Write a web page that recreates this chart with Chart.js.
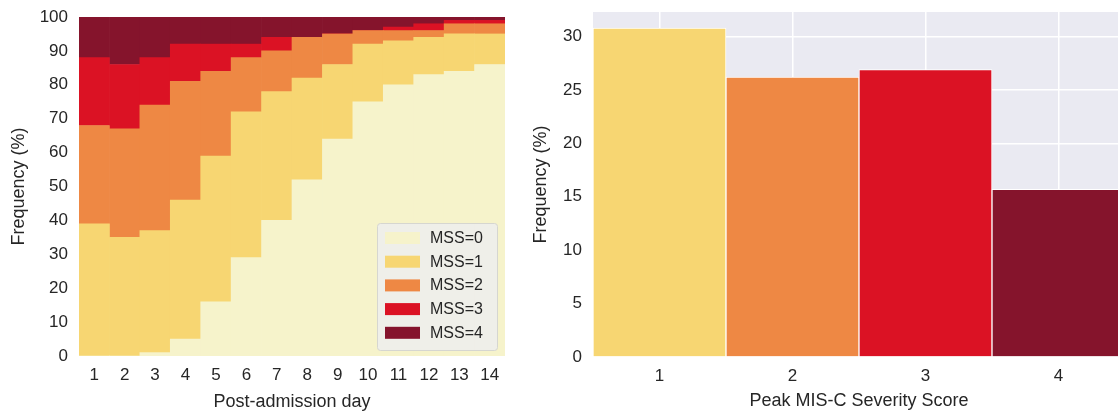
<!DOCTYPE html>
<html>
<head>
<meta charset="utf-8">
<script src="https://cdn.jsdelivr.net/npm/chart.js@4.4.1/dist/chart.umd.min.js"></script>
<style>
  html, body { margin: 0; padding: 0; background: #fff; }
  #wrap { position: relative; width: 1118px; height: 414px; overflow: hidden; }
  #left { position: absolute; left: 0; top: 0; width: 520px; height: 414px; }
  #right { position: absolute; left: 522px; top: 0; width: 608px; height: 414px; }
</style>
</head>
<body>
<div id="wrap">
  <div id="left"><canvas id="cLeft"></canvas></div>
  <div id="right"><canvas id="cRight"></canvas></div>
</div>
<script>
// ====== DATA ======
const days = ['1', '2', '3', '4', '5', '6', '7', '8', '9', '10', '11', '12', '13', '14'];
const mss0 = [0, 0, 1, 5, 16, 29, 40, 52, 64, 75, 80, 83, 84, 86];
const mss1 = [39, 35, 36, 41, 43, 43, 38, 30, 22, 17, 13, 11, 11, 9];
const mss2 = [29, 32, 37, 35, 25, 16, 12, 12, 9, 4, 3, 2, 3, 3];
const mss3 = [20, 19, 14, 11, 8, 4, 4, 0, 0, 0, 1, 2, 1, 1];
const mss4 = [12, 14, 12, 8, 8, 8, 6, 6, 5, 4, 3, 2, 1, 1];
const mssLabels = ['MSS=0', 'MSS=1', 'MSS=2', 'MSS=3', 'MSS=4'];

const scores = ['1', '2', '3', '4'];
const peakFreq = [30.8, 26.2, 26.9, 15.7];

// ====== STYLE ======
const COLORS = ['#F6F3CB', '#F7D672', '#EE8844', '#DB1224', '#85142C'];
const TEXT = '#262626';
const FONT = "'Liberation Sans', Arial, Helvetica, sans-serif";

Chart.defaults.font.family = FONT;
Chart.defaults.color = TEXT;
Chart.defaults.animation = false;

// y axis: fixed width, no extra padding for overflowing labels
const fixY = (w) => (s) => { s.width = w; s.paddingTop = 0; s.paddingBottom = 0; };
const fixX = (h) => (s) => { s.height = h; s.paddingLeft = 0; s.paddingRight = 0; };

// legend drawn inside plot area, bottom right
const innerLegend = {
  id: 'innerLegend',
  afterDraw(chart) {
    const { ctx, chartArea } = chart;
    const w = 120, h = 127;
    const x = chartArea.right - 128;
    const y = chartArea.bottom - 133;
    ctx.save();
    ctx.beginPath();
    ctx.roundRect(x + 0.5, y + 0.5, w, h, 3);
    ctx.fillStyle = 'rgba(238,238,234,0.95)';
    ctx.fill();
    ctx.strokeStyle = '#D6D6D0';
    ctx.lineWidth = 1;
    ctx.stroke();
    ctx.font = `16px ${FONT}`;
    ctx.textBaseline = 'middle';
    chart.data.datasets.forEach((ds, i) => {
      const ry = y + 9 + i * 23.7;
      ctx.fillStyle = ds.backgroundColor;
      ctx.fillRect(x + 8, ry, 35, 12);
      ctx.fillStyle = TEXT;
      ctx.fillText(ds.label, x + 53, ry + 6.5);
    });
    ctx.restore();
  }
};

// seaborn-like grey plot background
const plotBg = {
  id: 'plotBg',
  beforeDraw(chart) {
    const { ctx, chartArea: a } = chart;
    ctx.save();
    ctx.fillStyle = '#EAEAF2';
    ctx.fillRect(a.left, a.top, a.right - a.left, a.bottom - a.top);
    ctx.restore();
  }
};

// ====== LEFT: stacked daily distribution ======
const series = [mss0, mss1, mss2, mss3, mss4];
new Chart(document.getElementById('cLeft'), {
  type: 'bar',
  data: {
    labels: days,
    datasets: series.map((vals, i) => ({
      label: mssLabels[i],
      data: vals,
      backgroundColor: COLORS[i],
      borderWidth: 0,
      categoryPercentage: 1,
      barPercentage: 1,
    }))
  },
  options: {
    responsive: true,
    maintainAspectRatio: false,
    layout: { padding: { top: 17, right: 15, left: 0, bottom: 0 } },
    plugins: { legend: { display: false }, tooltip: { enabled: false } },
    scales: {
      x: {
        stacked: true,
        grid: { display: false, drawTicks: false },
        border: { display: false },
        ticks: { font: { size: 17 }, padding: 9, autoSkip: false, maxRotation: 0 },
        title: { display: true, text: 'Post-admission day', font: { size: 18 }, padding: { top: 0, bottom: 1 } },
        afterFit: fixX(58)
      },
      y: {
        stacked: true,
        min: 0, max: 100,
        grid: { display: false, drawTicks: false },
        border: { display: false },
        ticks: { stepSize: 10, font: { size: 17 }, padding: 11 },
        title: { display: true, text: 'Frequency (%)', font: { size: 18 }, padding: { top: 8, bottom: 0 } },
        afterFit: fixY(79)
      }
    }
  },
  plugins: [innerLegend]
});

// ====== RIGHT: peak severity score ======
new Chart(document.getElementById('cRight'), {
  type: 'bar',
  data: {
    labels: scores,
    datasets: [{
      data: peakFreq,
      backgroundColor: COLORS.slice(1),
      borderColor: '#ffffff',
      borderWidth: 1,
      categoryPercentage: 1,
      barPercentage: 1,
    }]
  },
  options: {
    responsive: true,
    maintainAspectRatio: false,
    layout: { padding: { top: 12, right: 5, left: 0, bottom: 0 } },
    plugins: { legend: { display: false }, tooltip: { enabled: false } },
    scales: {
      x: {
        grid: { color: '#ffffff', lineWidth: 1.5, drawTicks: false, offset: false },
        border: { display: false },
        ticks: { font: { size: 17 }, padding: 9 },
        title: { display: true, text: 'Peak MIS-C Severity Score', font: { size: 18 }, padding: { top: 0, bottom: 2 } },
        afterFit: fixX(57)
      },
      y: {
        min: 0, max: 32.3,
        grid: { color: '#ffffff', lineWidth: 1.5, drawTicks: false },
        border: { display: false },
        ticks: { stepSize: 5, includeBounds: false, font: { size: 17 }, padding: 11 },
        title: { display: true, text: 'Frequency (%)', font: { size: 18 }, padding: { top: 8, bottom: 0 } },
        afterFit: fixY(71)
      }
    }
  },
  plugins: [plotBg]
});
</script>
</body>
</html>
